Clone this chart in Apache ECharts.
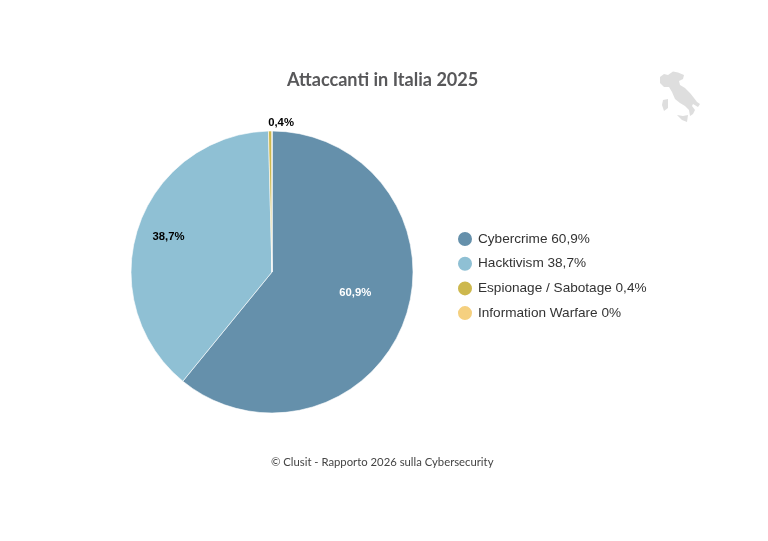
<!DOCTYPE html>
<html>
<head>
<meta charset="utf-8">
<style>
  html, body { margin: 0; padding: 0; background: #fff; }
  #chart { width: 768px; height: 541px; }
</style>
<script src="https://cdn.jsdelivr.net/npm/echarts@6/dist/echarts.min.js"></script>
</head>
<body>
<div id="chart"></div>
<script>
var categories = ['Cybercrime', 'Hacktivism', 'Espionage / Sabotage', 'Information Warfare'];
var values = [60.9, 38.7, 0.4, 0];
var valueLabels = ['60,9%', '38,7%', '0,4%', '0%'];
var colors = ['#6590ab', '#8fc0d4', '#cdb84e', '#f5d07f'];
var labelColors = ['#fff', '#000', '#000', '#000'];

// Italia decorativa in alto a destra
var mainland = [[660,77],[664,74],[668,75],[673,71.5],[678,72.5],[684,75],[683,79],[679,81],[680,85],[685,88],[690,93],[694,98],[697,102],[700,104],[698,107],[693,104],[692,106],[695,110],[693,114],[690,116],[689,110],[685,106],[680,103],[675,99],[672,92],[669,87],[664,87],[660,83]];
var sardinia = [[663,100],[668,99],[668,108],[664,111],[662,105]];
var sicily = [[677,115],[683,116],[688,115],[687,122],[682,120]];

function italyShape(points) {
  return { type: 'polygon', silent: true, shape: { points: points }, style: { fill: '#dedede' } };
}

var chart = echarts.init(document.getElementById('chart'));
chart.setOption({
  backgroundColor: '#fff',
  animation: false,
  color: colors,
  title: {
    text: 'Attaccanti in Italia 2025',
    left: 287,
    top: 71,
    padding: 0,
    textStyle: { fontFamily: 'Lato', fontSize: 18.1, fontWeight: 'bold', color: '#58585a' }
  },
  legend: {
    orient: 'vertical',
    left: 456,
    top: 230,
    padding: 0,
    itemWidth: 16,
    itemHeight: 16,
    itemGap: 6.7,
    icon: 'circle',
    selectedMode: false,
    formatter: function (name) {
      return name + ' ' + valueLabels[categories.indexOf(name)];
    },
    textStyle: { fontFamily: 'Liberation Sans', fontSize: 13.6, color: '#333' },
    data: categories
  },
  graphic: [
    italyShape(mainland),
    italyShape(sardinia),
    italyShape(sicily),
    {
      type: 'text',
      left: 271,
      top: 457,
      style: { text: '© Clusit - Rapporto 2026 sulla Cybersecurity', fontFamily: 'Lato', fontSize: 11.3, fill: '#444' }
    }
  ],
  series: [{
    type: 'pie',
    center: [272, 272],
    radius: [0, 141],
    startAngle: 90,
    clockwise: true,
    silent: true,
    itemStyle: { borderColor: '#fff', borderWidth: 0.6 },
    labelLine: { show: false },
    label: {
      show: true,
      position: 'inside',
      fontFamily: 'Liberation Sans',
      fontSize: 11.3,
      fontWeight: 'bold',
      formatter: function (p) { return valueLabels[p.dataIndex]; }
    },
    labelLayout: function (p) {
      // spostamento delle etichette rispetto alla posizione interna
      var shift = [[14, -4], [-34, -11], [10, -76], [0, 0]][p.dataIndex];
      return { dx: shift[0], dy: shift[1] };
    },
    data: categories.map(function (name, i) {
      return {
        name: name,
        value: values[i],
        label: { color: labelColors[i], show: values[i] > 0 }
      };
    })
  }]
});
</script>
</body>
</html>
